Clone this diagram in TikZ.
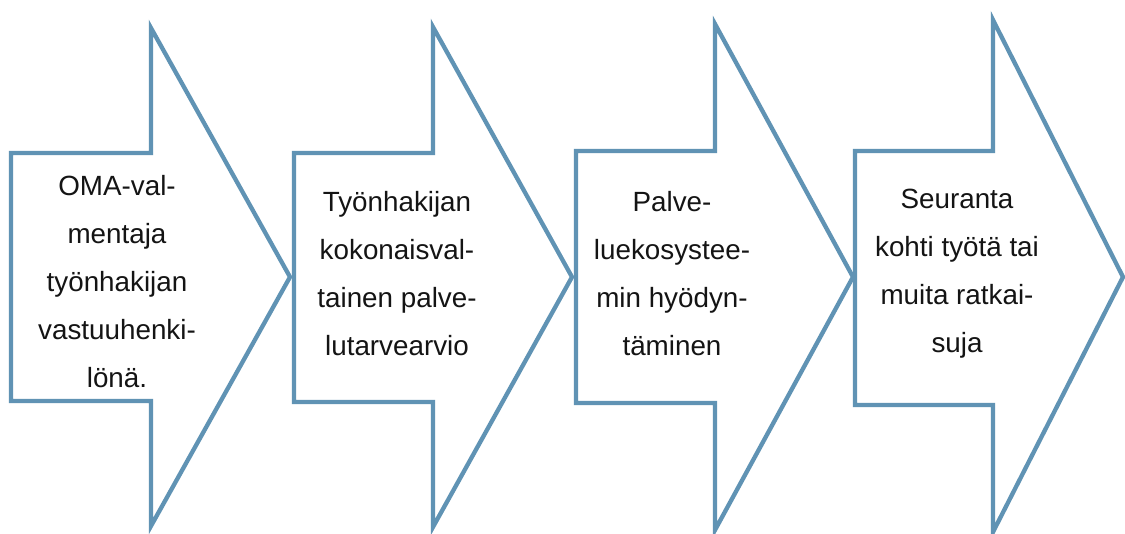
\documentclass[tikz,border=0pt]{standalone}
\usepackage{fontspec}
\setmainfont{Liberation Sans}
\definecolor{arrowblue}{RGB}{96,147,180}
\definecolor{txt}{RGB}{20,20,20}
\tikzset{
  bigarrow/.style={draw=arrowblue, line width=4.3pt, line join=miter, miter limit=20, fill=white},
  label/.style={align=center, text=txt, font=\fontsize{27.8}{48}\selectfont, inner sep=0pt}
}
\newcommand{\bigarr}[8]{% L, top, bottom, shaftright, headtop, headbottom, tipx, tipy
  \draw[bigarrow] (#1,#2) -- (#4,#2) -- (#4,#5) -- (#7,#8) -- (#4,#6) -- (#4,#3) -- (#1,#3) -- cycle;
}
\begin{document}
\begin{tikzpicture}[x=1pt,y=-1pt]
\useasboundingbox (0,0) rectangle (1125,534);
\fill[white] (0,0) rectangle (1125,534);
\bigarr{11}{153}{401}{151}{28}{526}{290}{277}
\bigarr{294}{153}{402}{433}{27}{527}{572}{277}
\bigarr{576}{151}{403}{715}{24}{530}{853}{277}
\bigarr{855}{151}{405}{993}{20}{532}{1123}{277}
\node[label] (t1) at (117,282) {OMA-val-\\mentaja\\työnhakijan\\vastuuhenki-\\lönä.};
\node[label] (t2) at (397,274) {Työnhakijan\\kokonaisval-\\tainen palve-\\lutarvearvio};
\node[label] (t3) at (672,274) {Palve-\\luekosystee-\\min hyödyn-\\täminen};
\node[label] (t4) at (957,274) {Seuranta\\kohti työtä tai\\muita ratkai-\\suja};
\end{tikzpicture}
\end{document}
